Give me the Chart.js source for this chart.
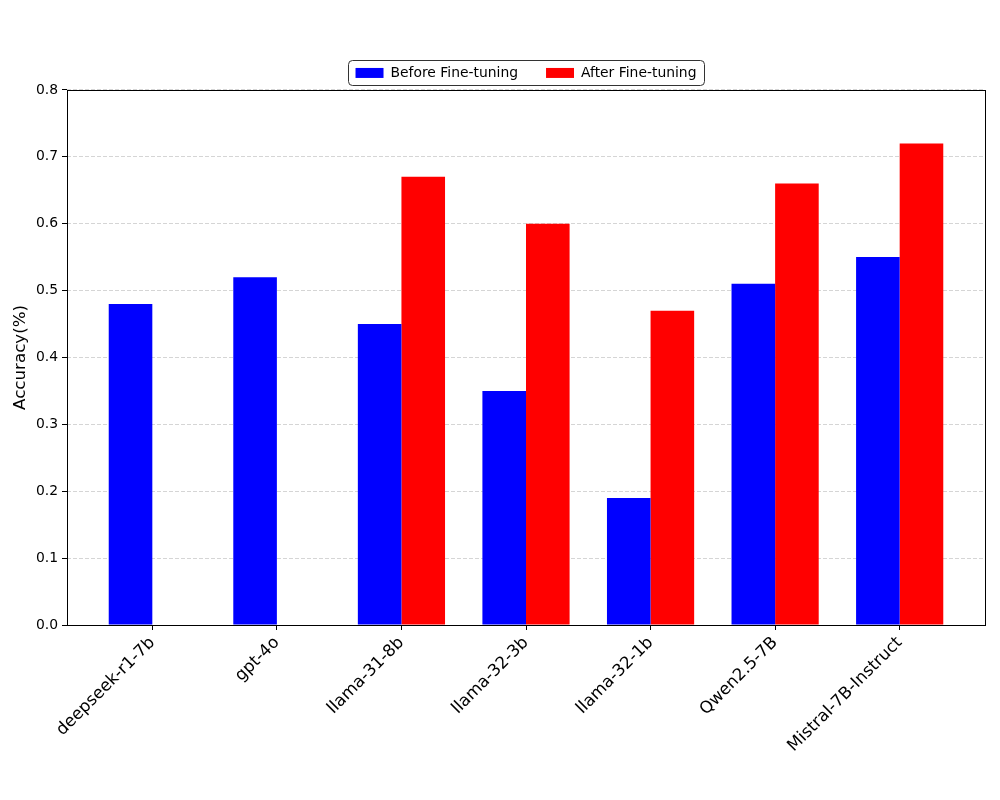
<!DOCTYPE html>
<html>
<head>
<meta charset="utf-8">
<script src="https://cdn.jsdelivr.net/npm/chart.js@4.4.1/dist/chart.umd.min.js"></script>
<style>
  html, body { margin: 0; padding: 0; background: #fff; }
  canvas { display: block; }
</style>
</head>
<body>
<canvas id="chart" width="1000" height="800"></canvas>
<script>
var models = ['deepseek-r1-7b', 'gpt-4o', 'llama-31-8b', 'llama-32-3b', 'llama-32-1b', 'Qwen2.5-7B', 'Mistral-7B-Instruct'];
var beforeTuning = [0.48, 0.52, 0.45, 0.35, 0.19, 0.51, 0.55];
var afterTuning = [null, null, 0.67, 0.60, 0.47, 0.66, 0.72];
var yTicks = [0, 0.1, 0.2, 0.3, 0.4, 0.5, 0.6, 0.7, 0.8];

var FONT = 'DejaVu Sans';

function points(values) {
	return values.map(function (v, i) { return { x: i, y: v }; });
}

// frame round the plot area and a box round the legend, as matplotlib draws them
var framePlugin = {
	id: 'frame',
	afterDraw: function (chart) {
		var ctx = chart.ctx;
		var a = chart.chartArea;
		ctx.save();
		ctx.strokeStyle = '#000';
		ctx.lineWidth = 1;
		ctx.strokeRect(Math.round(a.left) + 0.5, Math.round(a.top) + 0.5,
			Math.round(a.right - a.left), Math.round(a.bottom - a.top));

		var boxes = chart.legend.legendHitBoxes;
		if (boxes && boxes.length) {
			var x0 = Infinity, x1 = -Infinity, y0 = Infinity, y1 = -Infinity;
			boxes.forEach(function (b) {
				x0 = Math.min(x0, b.left); x1 = Math.max(x1, b.left + b.width);
				y0 = Math.min(y0, b.top); y1 = Math.max(y1, b.top + b.height);
			});
			x0 = Math.round(x0 - 8) + 0.5; x1 = Math.round(x1 + 8) + 0.5;
			y0 = Math.round(y0 - 6) + 0.5; y1 = Math.round(y1 + 5) + 0.5;
			ctx.beginPath();
			ctx.roundRect(x0, y0, x1 - x0, y1 - y0, 4);
			ctx.strokeStyle = '#333';
			ctx.stroke();
		}
		ctx.restore();
	}
};

new Chart(document.getElementById('chart').getContext('2d'), {
	type: 'bar',
	data: {
		datasets: [{
			label: 'Before Fine-tuning',
			data: points(beforeTuning),
			backgroundColor: '#0000ff',
			borderWidth: 0
		}, {
			label: 'After Fine-tuning',
			data: points(afterTuning),
			backgroundColor: '#ff0000',
			borderWidth: 0
		}]
	},
	options: {
		responsive: false,
		devicePixelRatio: 1,
		animation: false,
		categoryPercentage: 0.7,
		barPercentage: 1.0,
		layout: { padding: { left: 0, right: 15, top: 38, bottom: 0 } },
		plugins: {
			tooltip: { enabled: false },
			legend: {
				position: 'top',
				fullSize: false,
				maxHeight: 53,
				labels: {
					boxWidth: 28,
					boxHeight: 10,
					padding: 28,
					color: '#000',
					font: { family: FONT, size: 13.9 }
				}
			}
		},
		scales: {
			x: {
				type: 'linear',
				offset: false,
				min: -0.685,
				max: 6.685,
				afterBuildTicks: function (scale) {
					scale.ticks = models.map(function (m, i) { return { value: i }; });
				},
				afterFit: function (scale) { scale.height = 175; },
				grid: {
					offset: false,
					drawOnChartArea: false,
					drawTicks: true,
					tickLength: 5,
					tickColor: '#000',
					tickWidth: 1
				},
				border: { display: false },
				ticks: {
					autoSkip: false,
					minRotation: 45,
					maxRotation: 45,
					padding: 3,
					color: '#000',
					font: { family: FONT, size: 16.7 },
					callback: function (v) { return models[v]; }
				}
			},
			y: {
				min: 0,
				max: 0.8,
				afterBuildTicks: function (scale) {
					scale.ticks = yTicks.map(function (v) { return { value: v }; });
				},
				afterFit: function (scale) { scale.width = 67; },
				grid: {
					color: 'rgba(180,180,180,0.7)',
					lineWidth: 0.8,
					tickLength: 5,
					tickColor: '#000',
					tickWidth: 1,
					tickBorderDash: []
				},
				border: { display: false, dash: [4, 2] },
				ticks: {
					padding: 4,
					color: '#000',
					font: { family: FONT, size: 13.9 },
					callback: function (v) { return v.toFixed(1); }
				},
				title: {
					display: true,
					text: 'Accuracy(%)',
					color: '#000',
					padding: { top: 11, bottom: 0 },
					font: { family: FONT, size: 16.7 }
				}
			}
		}
	},
	plugins: [framePlugin]
});
</script>
</body>
</html>
